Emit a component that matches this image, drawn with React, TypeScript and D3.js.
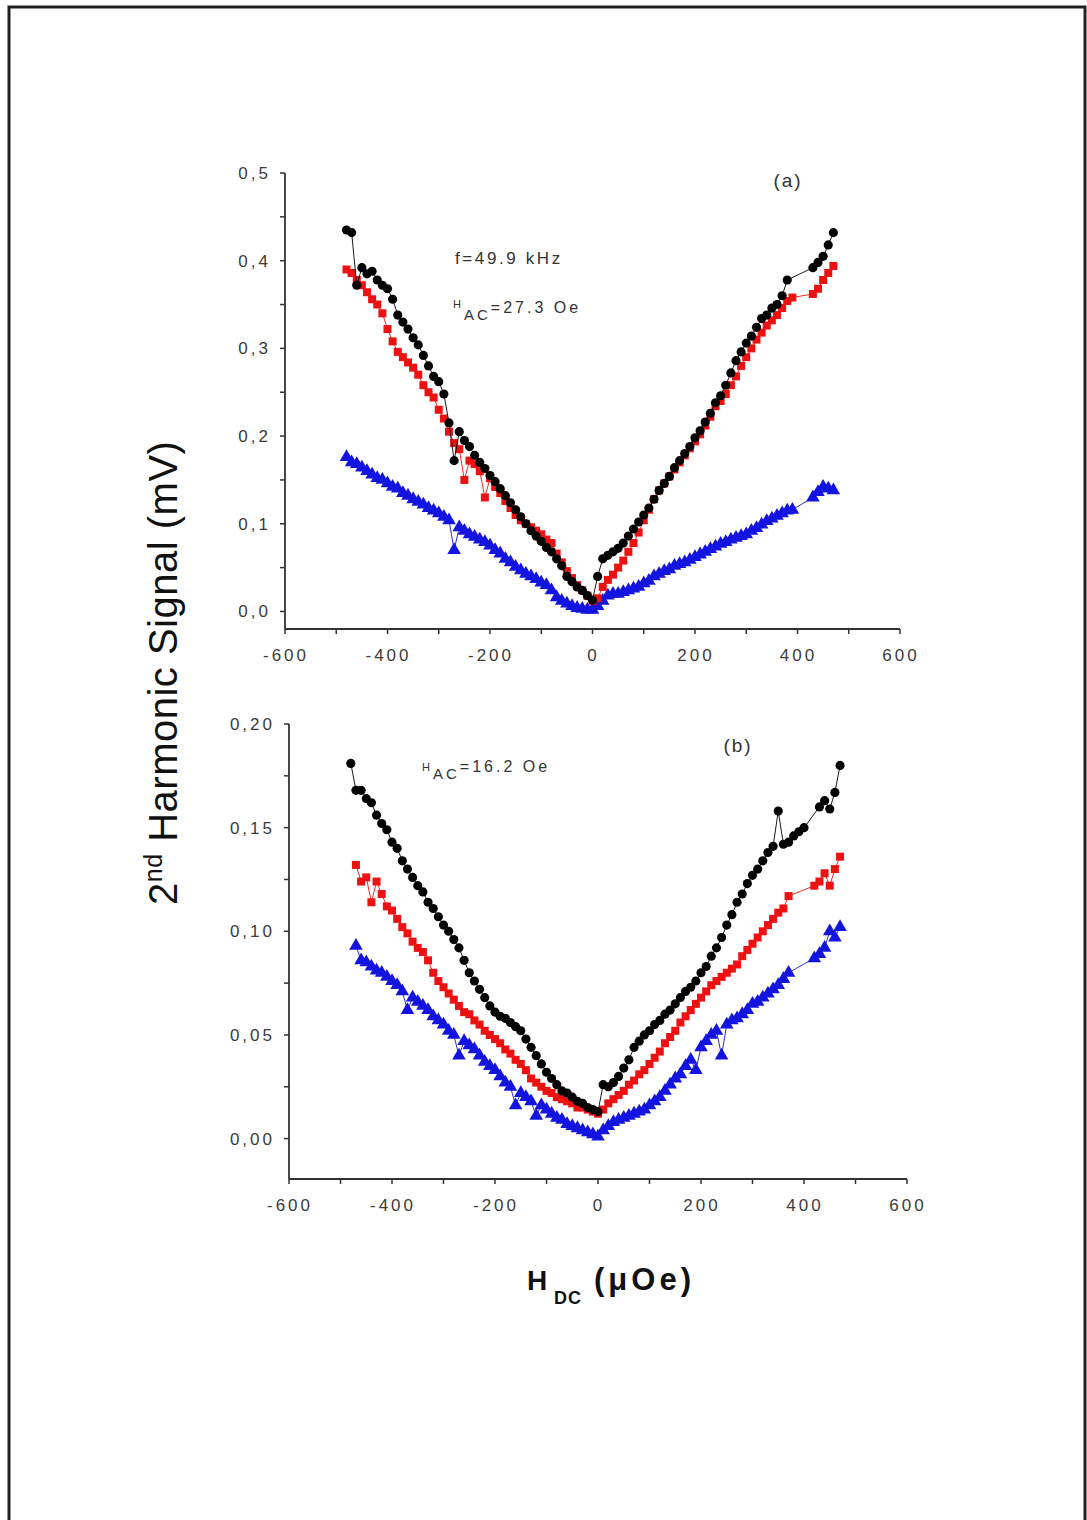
import React from 'react';
import * as d3 from 'd3';

// H_DC values (µOe) shared by every series
const HDC = [-480,-470,-460,-450,-440,-430,-420,-410,-400,-390,-380,-370,-360,-350,-340,-330,-320,-310,-300,-290,-280,-270,-260,-250,-240,-230,-220,-210,-200,-190,-180,-170,-160,-150,-140,-130,-120,-110,-100,-90,-80,-70,-60,-50,-40,-30,-20,-10,0,10,20,30,40,50,60,70,80,90,100,110,120,130,140,150,160,170,180,190,200,210,220,230,240,250,260,270,280,290,300,310,320,330,340,350,360,370,380,390,400,410,420,430,440,450,460,470];

// Panel (a), H_AC = 27.3 Oe
const A_BLACK = [
  0.435,0.432,0.372,0.392,0.385,0.388,0.378,0.372,
  0.368,0.356,0.338,0.330,0.322,0.312,0.304,0.292,
  0.280,0.268,0.262,0.248,0.215,0.172,0.205,0.195,
  0.188,0.178,0.170,0.163,0.155,0.148,0.140,0.132,
  0.124,0.116,0.108,0.100,0.092,0.086,0.080,0.073,
  0.068,0.060,0.052,0.040,0.034,0.028,0.024,0.018,
  0.013,0.040,0.060,0.064,0.068,0.072,0.078,0.086,
  0.094,0.102,0.110,0.118,0.128,0.138,0.146,0.154,
  0.164,0.172,0.180,0.188,0.198,0.206,0.216,0.226,
  0.238,0.246,0.258,0.272,0.286,0.296,0.306,0.314,
  0.324,0.334,0.338,0.346,0.350,0.360,0.378,null,
  null,null,null,0.392,0.398,0.405,0.418,0.432];
const A_RED = [
  0.390,0.386,0.378,0.372,0.364,0.356,0.350,0.340,
  0.322,0.308,0.296,0.290,0.284,0.278,0.270,0.258,
  0.250,0.244,0.230,0.220,0.205,0.192,0.185,0.150,
  0.172,0.168,0.160,0.130,0.152,0.142,0.135,0.126,
  0.118,0.110,0.104,0.100,0.096,0.092,0.088,0.082,
  0.078,0.066,0.056,0.046,0.038,0.030,0.024,0.018,
  0.012,0.015,0.028,0.036,0.042,0.050,0.058,0.068,
  0.078,0.090,0.104,0.116,0.128,0.138,0.146,0.154,
  0.162,0.170,0.178,0.186,0.194,0.202,0.212,0.222,
  0.234,0.240,0.248,0.258,0.268,0.280,0.290,0.300,
  0.310,0.318,0.326,0.332,0.338,0.346,0.354,0.358,
  null,null,null,0.362,0.368,0.378,0.386,0.394];
const A_BLUE = [
  0.176,0.170,0.168,0.164,0.160,0.156,0.152,0.150,
  0.146,0.142,0.140,0.135,0.132,0.128,0.125,0.122,
  0.118,0.115,0.112,0.108,0.104,0.070,0.096,0.092,
  0.088,0.085,0.082,0.079,0.075,0.070,0.066,0.060,
  0.056,0.051,0.047,0.043,0.040,0.037,0.033,0.030,
  0.024,0.016,0.012,0.009,0.006,0.004,0.003,0.002,
  0.002,0.006,0.012,0.018,0.020,0.020,0.022,0.024,
  0.026,0.028,0.032,0.035,0.040,0.043,0.046,0.048,
  0.052,0.054,0.056,0.059,0.062,0.065,0.068,0.071,
  0.074,0.077,0.079,0.082,0.084,0.086,0.088,0.092,
  0.095,0.099,0.103,0.106,0.109,0.112,0.115,0.116,
  null,null,null,0.130,0.136,0.142,0.140,0.138];

// Panel (b), H_AC = 16.2 Oe
const B_BLACK = [
  0.181,0.168,0.168,0.164,0.162,0.156,0.152,0.149,
  0.143,0.140,0.134,0.130,0.126,0.122,0.119,0.114,
  0.111,0.107,0.103,0.100,0.096,0.092,0.086,0.080,
  0.076,0.072,0.068,0.064,0.061,0.059,0.058,0.056,
  0.054,0.052,0.048,0.044,0.040,0.036,0.032,0.029,
  0.026,0.023,0.022,0.020,0.018,0.017,0.015,0.014,
  0.013,0.026,0.025,0.027,0.030,0.034,0.038,0.044,
  0.047,0.050,0.052,0.055,0.057,0.060,0.062,0.065,
  0.068,0.071,0.073,0.076,0.080,0.083,0.088,0.092,
  0.097,0.103,0.108,0.114,0.118,0.123,0.127,0.130,
  0.134,0.138,0.141,0.158,0.142,0.143,0.146,0.148,
  0.150,null,null,0.160,0.163,0.159,0.167,0.180];
const B_RED = [
  null,0.132,0.124,0.126,0.114,0.124,0.118,0.112,
  0.110,0.106,0.102,0.099,0.095,0.092,0.090,0.086,
  0.080,0.076,0.073,0.070,0.067,0.064,0.061,0.060,
  0.057,0.055,0.052,0.050,0.048,0.046,0.043,0.041,
  0.038,0.036,0.033,0.029,0.027,0.025,0.023,0.022,
  0.020,0.019,0.018,0.017,0.015,0.015,0.014,0.013,
  0.012,0.014,0.017,0.019,0.021,0.023,0.026,0.028,
  0.031,0.033,0.036,0.039,0.042,0.046,0.049,0.052,
  0.056,0.059,0.062,0.065,0.068,0.071,0.074,0.076,
  0.078,0.080,0.082,0.084,0.088,0.091,0.094,0.097,
  0.100,0.103,0.106,0.109,0.111,0.117,null,null,
  null,null,0.122,0.124,0.128,0.122,0.130,0.136];
const B_BLUE = [
  null,0.093,0.086,0.085,0.083,0.081,0.080,0.078,
  0.076,0.074,0.071,0.062,0.068,0.066,0.064,0.062,
  0.059,0.057,0.055,0.052,0.050,0.040,0.047,0.045,
  0.043,0.040,0.037,0.035,0.033,0.030,0.027,0.025,
  0.016,0.022,0.020,0.018,0.011,0.016,0.014,0.012,
  0.010,0.009,0.007,0.006,0.005,0.004,0.003,0.002,
  0.001,0.004,0.006,0.008,0.009,0.010,0.011,0.012,
  0.013,0.014,0.016,0.018,0.020,0.023,0.026,0.029,
  0.031,0.035,0.038,0.033,0.044,0.047,0.050,0.052,
  0.040,0.055,0.057,0.058,0.060,0.062,0.065,0.066,
  0.068,0.070,0.072,0.074,0.077,0.080,null,null,
  null,null,0.087,0.089,0.092,0.100,0.097,0.102];

const X_TICKS = [-600,-500,-400,-300,-200,-100,0,100,200,300,400,500,600];
const A_Y_TICKS = [0,0.05,0.1,0.15,0.2,0.25,0.3,0.35,0.4,0.45,0.5];
const B_Y_TICKS = [0,0.025,0.05,0.075,0.1,0.125,0.15,0.175,0.2];

const COLORS = { black: '#000000', red: '#ee1111', blue: '#1414e0' };
const FONT = 'Arial, "Liberation Sans", sans-serif';
const TICK_COLOR = '#3c3c3c';

type Series = { y: (number | null)[]; color: string; shape: d3.SymbolType };

function Panel({ xr, yr, yDomain, yTicks, yMajorEvery, yFmt, series }: {
  xr: [number, number]; yr: [number, number]; yDomain: [number, number];
  yTicks: number[]; yMajorEvery: number; yFmt: (v: number) => string; series: Series[];
}) {
  const x = d3.scaleLinear().domain([-600, 600]).range(xr);
  const y = d3.scaleLinear().domain(yDomain).range(yr);
  const x0 = xr[0];
  const yBase = yr[0];
  return (
    <g>
      {series.map((s, si) => {
        const pts = HDC.map((h, i) => [h, s.y[i]] as [number, number | null]).filter(p => p[1] !== null) as [number, number][];
        const line = d3.line<[number, number]>().x(d => x(d[0])).y(d => y(d[1]));
        const size = s.shape === d3.symbolTriangle ? 80 : s.shape === d3.symbolSquare ? 64 : 66;
        const sym = d3.symbol().type(s.shape).size(size);
        return (
          <g key={si}>
            <path d={line(pts) || ''} fill="none" stroke={s.color} strokeWidth={0.9} />
            {pts.map((p, i) => (
              <path key={i} d={sym() || ''} transform={`translate(${x(p[0])},${y(p[1])})`} fill={s.color} />
            ))}
          </g>
        );
      })}
      {/* axes */}
      <line x1={x0} x2={x0} y1={yBase} y2={yr[1]} stroke="#333" strokeWidth={1.8} />
      <line x1={xr[0]} x2={xr[1]} y1={yBase} y2={yBase} stroke="#333" strokeWidth={1.8} />
      {X_TICKS.map(t => (
        <g key={t}>
          <line x1={x(t)} x2={x(t)} y1={yBase} y2={yBase + 5} stroke="#333" strokeWidth={1.5} />
          {t % 200 === 0 && (
            <text x={x(t) + 1} y={yBase + 32} textAnchor="middle" fontFamily={FONT} fontSize={17} letterSpacing={3} fill={TICK_COLOR}>{String(t)}</text>
          )}
        </g>
      ))}
      {yTicks.map((t, i) => (
        <g key={t}>
          <line x1={x0 - 5} x2={x0} y1={y(t)} y2={y(t)} stroke="#333" strokeWidth={1.5} />
          {i % yMajorEvery === 0 && (
            <text x={x0 - 14} y={y(t) + 6} textAnchor="end" fontFamily={FONT} fontSize={17} letterSpacing={3} fill={TICK_COLOR}>{yFmt(t)}</text>
          )}
        </g>
      ))}
    </g>
  );
}

export default function App() {
  const fmtA = (v: number) => d3.format('.1f')(v).replace('.', ',');
  const fmtB = (v: number) => d3.format('.2f')(v).replace('.', ',');
  return (
    <svg width={1087} height={1520} style={{ position: 'fixed', left: 0, top: 0, background: '#fff' }}>
      <rect x={0} y={0} width={1087} height={1520} fill="#fff" />
      <rect x={9} y={7} width={1076} height={1540} fill="none" stroke="#222" strokeWidth={3} />
      <Panel xr={[285, 900]} yr={[629, 173]} yDomain={[-0.02, 0.5]} yTicks={A_Y_TICKS} yMajorEvery={2} yFmt={fmtA}
        series={[
          { y: A_BLUE, color: COLORS.blue, shape: d3.symbolTriangle },
          { y: A_RED, color: COLORS.red, shape: d3.symbolSquare },
          { y: A_BLACK, color: COLORS.black, shape: d3.symbolCircle },
        ]} />
      <Panel xr={[289, 907]} yr={[1179, 724]} yDomain={[-0.0195, 0.2]} yTicks={B_Y_TICKS} yMajorEvery={2} yFmt={fmtB}
        series={[
          { y: B_BLUE, color: COLORS.blue, shape: d3.symbolTriangle },
          { y: B_RED, color: COLORS.red, shape: d3.symbolSquare },
          { y: B_BLACK, color: COLORS.black, shape: d3.symbolCircle },
        ]} />
      {/* annotations */}
      <text x={788} y={187} textAnchor="middle" fontFamily={FONT} fontSize={19} letterSpacing={2} fill="#333">(a)</text>
      <text x={455} y={264} fontFamily={FONT} fontSize={17} letterSpacing={2.6} fill="#333">f=49.9 kHz</text>
      <text x={453} y={313} fontFamily={FONT} fill="#333" letterSpacing={3}>
        <tspan fontSize={11} dy={-5}>H</tspan>
        <tspan fontSize={15} dy={12}>AC</tspan>
        <tspan fontSize={16} dy={-7}>=27.3 Oe</tspan>
      </text>
      <text x={738} y={752} textAnchor="middle" fontFamily={FONT} fontSize={19} letterSpacing={2} fill="#333">(b)</text>
      <text x={422} y={772} fontFamily={FONT} fill="#333" letterSpacing={3}>
        <tspan fontSize={11} dy={-1}>H</tspan>
        <tspan fontSize={15} dy={8}>AC</tspan>
        <tspan fontSize={16} dy={-7}>=16.2 Oe</tspan>
      </text>
      {/* axis titles */}
      <text transform="translate(177,905) rotate(-90)" fontFamily={FONT} fill="#111" letterSpacing={0.5}>
        <tspan fontSize={40}>2</tspan>
        <tspan fontSize={25} dy={-15}>nd</tspan>
        <tspan fontSize={40} dy={15}> Harmonic Signal (mV)</tspan>
      </text>
      <text y={1290} fontFamily={FONT} fontWeight="bold" fill="#111">
        <tspan x={527} fontSize={28} letterSpacing={1}>H</tspan>
        <tspan x={554} fontSize={18} dy={14} letterSpacing={1}>DC</tspan>
        <tspan x={594} fontSize={31} dy={-14} letterSpacing={4}>(μOe)</tspan>
      </text>
    </svg>
  );
}
